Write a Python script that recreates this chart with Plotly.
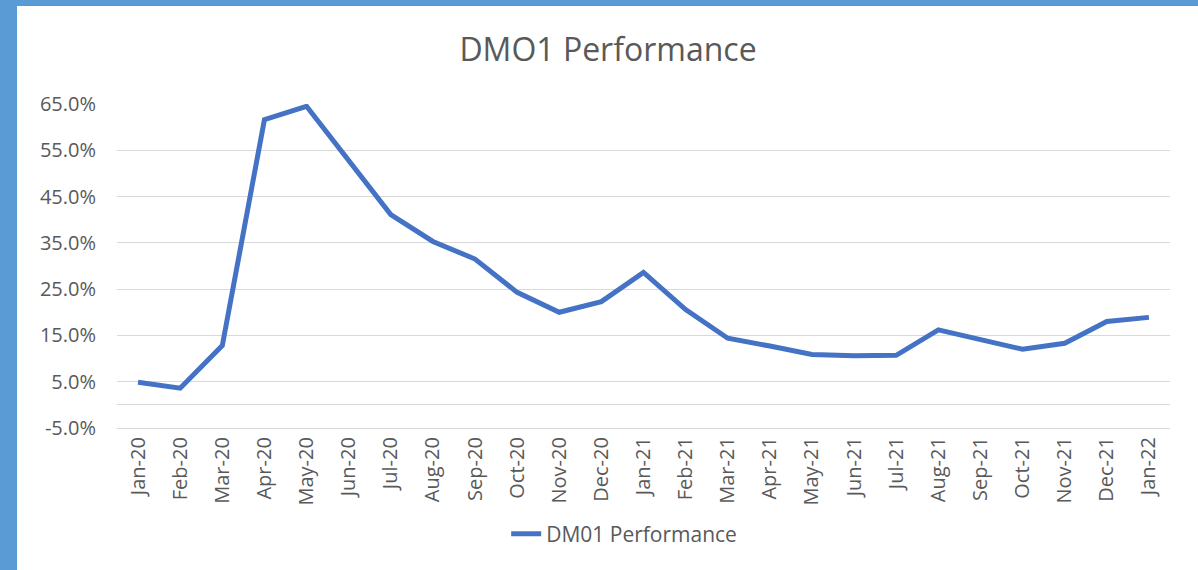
import plotly.graph_objects as go

months = ["Jan-20", "Feb-20", "Mar-20", "Apr-20", "May-20", "Jun-20", "Jul-20", "Aug-20",
          "Sep-20", "Oct-20", "Nov-20", "Dec-20", "Jan-21", "Feb-21", "Mar-21", "Apr-21",
          "May-21", "Jun-21", "Jul-21", "Aug-21", "Sep-21", "Oct-21", "Nov-21", "Dec-21", "Jan-22"]
performance = [0.049, 0.036, 0.128, 0.616, 0.645, 0.528, 0.411, 0.353, 0.315, 0.243, 0.200,
               0.223, 0.286, 0.206, 0.144, 0.127, 0.109, 0.106, 0.107, 0.162, 0.141, 0.120,
               0.133, 0.180, 0.189]
y_ticks = [-0.05, 0.05, 0.15, 0.25, 0.35, 0.45, 0.55, 0.65]
y_tick_labels = ["-5.0%", "5.0%", "15.0%", "25.0%", "35.0%", "45.0%", "55.0%", "65.0%"]

FONT = "Open Sans"
TXT = "#595959"
W, H = 1198, 570
L, R, T, B = 117, 28, 104, 142
pw, ph = W - L - R, H - T - B

fig = go.Figure()
fig.add_trace(go.Scatter(
    x=months, y=performance, mode="lines", name="DM01 Performance",
    line=dict(color="#4472C4", width=5, shape="linear"),
))

# white chart area over blue frame (left and top strips)
fig.add_shape(type="rect", xref="paper", yref="paper", layer="below",
              x0=(17 - L) / pw, x1=(W + 20 - L) / pw,
              y0=(H - B - (H + 20)) / ph, y1=(H - B - 6) / ph,
              fillcolor="white", line=dict(width=0))

fig.update_layout(
    width=W, height=H, autosize=False,
    margin=dict(l=L, r=R, t=T, b=B, autoexpand=False),
    paper_bgcolor="#5B9BD5", plot_bgcolor="white",
    font=dict(family=FONT, color=TXT, size=20),
    title=dict(text="DMO1 Performance", x=608 / W, xref="container", xanchor="center",
               y=1 - 50 / H, yref="container", yanchor="middle",
               font=dict(family=FONT, size=32, color=TXT)),
    showlegend=True,
    legend=dict(orientation="h", xref="container", yref="container",
                x=0.521, xanchor="center", y=1 - 534 / H, yanchor="middle",
                font=dict(family=FONT, size=21, color=TXT), bgcolor="rgba(0,0,0,0)"),
    xaxis=dict(type="category", range=[-0.5, len(months) - 0.5], tickangle=-90,
               showgrid=False, showline=True, linecolor="#D9D9D9", linewidth=1.3,
               ticks="", zeroline=False, automargin=False,
               tickfont=dict(family=FONT, size=20, color=TXT), fixedrange=True),
    yaxis=dict(range=[-0.05, 0.65], tickvals=y_ticks, ticktext=y_tick_labels,
               showgrid=True, gridcolor="#D9D9D9", gridwidth=1.3,
               zeroline=True, zerolinecolor="#D9D9D9", zerolinewidth=1.3,
               showline=False, ticks="", ticklabelstandoff=20, automargin=False,
               tickfont=dict(family=FONT, size=20, color=TXT), fixedrange=True),
)

fig.write_html("out.html", post_script="document.body.style.margin='0';",
               config={"displayModeBar": False})
